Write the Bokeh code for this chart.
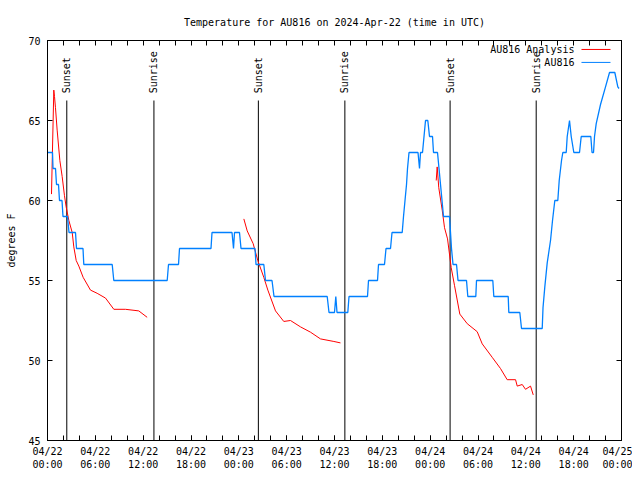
import math
from bokeh.plotting import figure
from bokeh.models import FixedTicker, LinearAxis, Range1d, Label
from bokeh.embed import file_html
from bokeh.resources import INLINE
from bokeh.core.properties import value

# ---------------- data (hours after 2024-04-22 00:00 UTC, degrees F) ----------------
obs_hours = [0, 0.627, 0.690, 1.004, 1.129, 1.380, 1.505, 1.819, 1.944, 2.509,
             2.697, 3.512, 3.638, 4.453, 4.553, 8.116, 8.317, 15.015, 15.178, 16.433,
             16.558, 20.509, 20.635, 23.144, 23.332, 23.457, 24.084, 24.272, 26.029, 26.154,
             27.133, 27.346, 28.161, 28.412, 35.085, 35.311, 36.001, 36.164, 36.314, 37.669,
             37.820, 40.140, 40.266, 41.395, 41.520, 42.273, 42.461, 43.026, 43.214, 44.493,
             44.656, 44.844, 45.033, 45.158, 45.346, 46.475, 46.663, 46.789, 47.040, 47.228,
             47.416, 47.705, 47.918, 48.294, 48.419, 48.921, 49.109, 49.298, 49.486, 49.674,
             50.427, 50.552, 50.677, 50.866, 51.305, 51.493, 52.559, 52.722, 53.726, 53.813,
             55.858, 55.983, 57.790, 57.865, 59.245, 59.458, 62.055, 62.155, 62.381, 62.682,
             63.096, 63.347, 63.635, 64.012, 64.187, 64.476, 64.639, 65.065, 65.191, 65.479,
             65.693, 66.019, 66.734, 66.947, 68.151, 68.302, 68.490, 68.615, 68.828, 69.368,
             69.995, 70.497, 71.162, 71.538, 71.688]
obs_temps = [63, 63, 62, 62, 61, 61, 60, 60, 59, 59,
             58, 58, 57, 57, 56, 56, 55, 55, 56, 56,
             57, 57, 58, 58, 57, 58, 58, 57, 57, 56,
             56, 55, 55, 54, 54, 53, 53, 54, 53, 53,
             54, 54, 55, 55, 56, 56, 57, 57, 58, 58,
             59, 60, 61, 62, 63, 63, 62, 63, 63, 64,
             65, 65, 64, 64, 63, 63, 62, 61, 60, 59,
             59, 58, 57, 56, 56, 55, 55, 54, 54, 55,
             55, 54, 54, 53, 53, 52, 52, 53.3, 54.6, 56.1,
             57.5, 58.75, 60, 60, 61.25, 62.5, 63, 63, 64, 65,
             64, 63, 63, 64, 64, 63, 63, 64, 64.8, 66,
             67.1, 68, 68, 67.1, 67]

ana1_hours = [0.50, 0.79, 0.88, 1.00, 1.21, 1.55, 1.84, 2.13, 2.34, 2.68, 3.10,
              3.30, 3.60, 3.93, 4.47, 5.39, 6.23, 7.28, 8.32, 9.78, 11.45, 12.50]
ana1_temps = [60.4, 66.9, 66.5, 65.8, 64.4, 62.5, 61.5, 60.3, 59.6, 58.75, 58.0,
              57.1, 56.25, 55.9, 55.2, 54.4, 54.2, 53.9, 53.2, 53.2, 53.1, 52.7]

ana2_hours = [24.63, 25.05, 25.80, 26.38, 27.13, 27.64, 28.60, 29.64, 30.48, 31.74,
              32.99, 34.24, 35.92, 36.75]
ana2_temps = [58.85, 58.1, 57.3, 56.25, 55.2, 54.4, 53.1, 52.44, 52.5, 52.1,
              51.77, 51.35, 51.19, 51.1]

ana3_hours = [48.76, 48.88, 49.08, 49.51, 49.80, 50.18, 50.64, 51.05, 51.72, 52.65,
              53.90, 54.53, 55.78, 56.82, 57.66, 58.71, 58.92, 59.55, 59.96, 60.59, 60.93]
ana3_temps = [61.25, 62.1, 60.8, 59.4, 58.3, 57.6, 55.8, 54.7, 52.9, 52.3,
              51.8, 51.04, 50.2, 49.5, 48.8, 48.8, 48.4, 48.5, 48.2, 48.4, 47.85]

sun_hours = [2.42, 13.35, 26.45, 37.30, 50.50, 61.30]
sun_labels = ["Sunset", "Sunrise", "Sunset", "Sunrise", "Sunset", "Sunrise"]

x_tick_hours = [0, 6, 12, 18, 24, 30, 36, 42, 48, 54, 60, 66, 72]
x_tick_labels = ["04/22\n00:00", "04/22\n06:00", "04/22\n12:00", "04/22\n18:00",
                 "04/23\n00:00", "04/23\n06:00", "04/23\n12:00", "04/23\n18:00",
                 "04/24\n00:00", "04/24\n06:00", "04/24\n12:00", "04/24\n18:00",
                 "04/25\n00:00"]
y_ticks = [45, 50, 55, 60, 65, 70]

series_names = ["AU816 Analysis", "AU816"]

# ---------------- styling ----------------
FONT = "DejaVu Sans Mono"
FS = "10px"
RED = "#ff0000"
BLUE = "#0080ff"

p = figure(width=632, height=472, output_backend="svg", toolbar_location=None,
           x_range=Range1d(0, 72), y_range=Range1d(45, 70),
           min_border_left=47, min_border_right=11, min_border_top=40, min_border_bottom=32)
p.grid.visible = False
p.outline_line_color = "black"
p.background_fill_color = "white"
p.border_fill_color = "white"

p.title.text = "Temperature for AU816 on 2024-Apr-22 (time in UTC)"
p.title.align = "center"
p.title.text_font = FONT
p.title.text_font_size = FS
p.title.text_font_style = "normal"
p.title.text_color = "black"
p.title.standoff = 25

xticker = FixedTicker(ticks=x_tick_hours, minor_ticks=list(range(0, 73, 2)))
yticker = FixedTicker(ticks=y_ticks, minor_ticks=[])
# mirror axes: tick marks only (as minor ticks, so no labels are drawn)
xticker_mirror = FixedTicker(ticks=[], minor_ticks=list(range(0, 73, 2)))
yticker_mirror = FixedTicker(ticks=[], minor_ticks=y_ticks)


def style_axis(ax):
    ax.axis_line_color = "black"
    ax.major_tick_in = 5
    ax.major_tick_out = 0
    ax.minor_tick_in = 5
    ax.minor_tick_out = 0
    ax.major_tick_line_color = "black"
    ax.minor_tick_line_color = "black"
    ax.major_label_text_font = FONT
    ax.major_label_text_font_size = FS
    ax.major_label_text_color = "black"


xa = p.xaxis[0]
xa.ticker = xticker
xa.major_label_overrides = {h: lab for h, lab in zip(x_tick_hours, x_tick_labels)}
style_axis(xa)
xa.major_label_standoff = 5

ya = p.yaxis[0]
ya.ticker = yticker
style_axis(ya)
ya.major_label_standoff = 7
ya.axis_label = "degrees F"
ya.axis_label_text_font = FONT
ya.axis_label_text_font_size = FS
ya.axis_label_text_font_style = "normal"
ya.axis_label_text_color = "black"
ya.axis_label_standoff = 8

top = LinearAxis(ticker=xticker_mirror)
style_axis(top)
top.major_label_standoff = 0
p.add_layout(top, "above")
right = LinearAxis(ticker=yticker_mirror)
style_axis(right)
right.major_label_standoff = 0
p.add_layout(right, "right")

# sunrise / sunset markers
SUN_TOP = 66.25
p.segment(x0=sun_hours, y0=[45] * len(sun_hours), x1=sun_hours, y1=[SUN_TOP] * len(sun_hours),
          line_color="black", line_width=1)
p.text(x=sun_hours, y=[SUN_TOP + 0.45] * len(sun_hours), text=sun_labels, angle=math.pi / 2,
       text_align="left", text_baseline="middle", text_font=value(FONT), text_font_size=FS,
       text_color="black")

# series
for hrs, tmp in ((ana1_hours, ana1_temps), (ana2_hours, ana2_temps), (ana3_hours, ana3_temps)):
    p.line(hrs, tmp, line_color=RED, line_width=1)
p.line(obs_hours, obs_temps, line_color=BLUE, line_width=1.3)

# legend (gnuplot style: text then sample line), positioned in the fixed frame
LEG_TXT_X = 66.1
LEG_LINE_X0, LEG_LINE_X1 = 66.98, 70.62
LEG_Y = [69.44, 68.63]
for name, color, ly in zip(series_names, (RED, BLUE), LEG_Y):
    p.add_layout(Label(x=LEG_TXT_X, y=ly, text=name, text_align="right", text_baseline="middle",
                       text_font=FONT, text_font_size=FS, text_color="black"))
    p.line([LEG_LINE_X0, LEG_LINE_X1], [ly, ly], line_color=color, line_width=1)

open("out.html", "w").write(file_html(p, INLINE))
